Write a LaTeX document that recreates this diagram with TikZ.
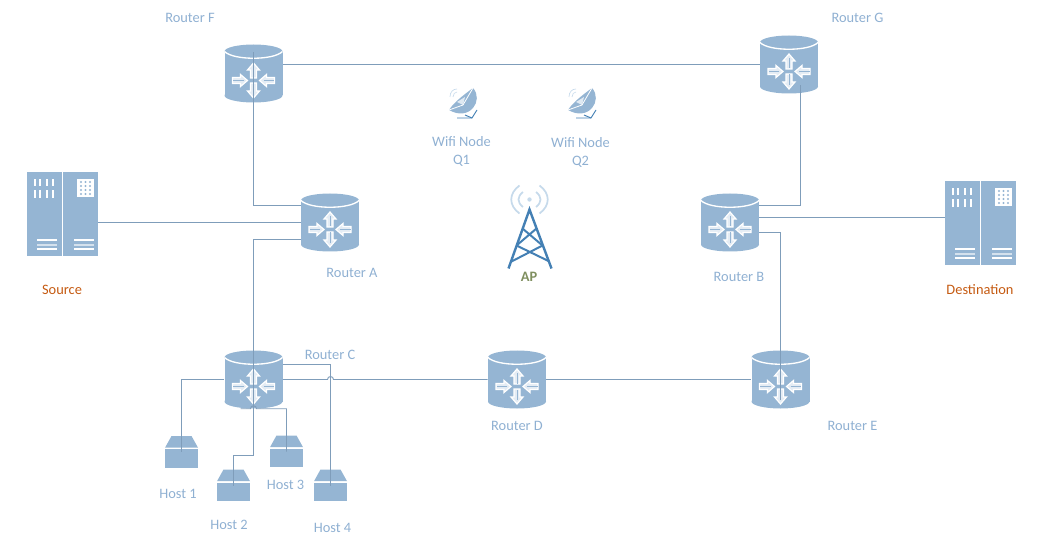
\documentclass[tikz,border=0pt]{standalone}
\usepackage{fontspec}
\setmainfont{Carlito}
\usetikzlibrary{positioning, calc}

\definecolor{iconblue}{HTML}{95B5D3}
\definecolor{wirecol}{HTML}{7F9DBA}
\definecolor{labelblue}{HTML}{8FB0D2}
\definecolor{towerblue}{HTML}{4480B4}
\definecolor{wavecol}{HTML}{C6DAEB}
\definecolor{srccol}{HTML}{C55A11}
\definecolor{apcol}{HTML}{7F8F5F}

\tikzset{
  arrowmark/.pic = {
    \draw[white, line width=.9pt, fill=iconblue!25!white, line join=miter]
      (0,-7.5) -- (6,-0.5) -- (3,-0.5) -- (3,7.5) -- (-3,7.5) -- (-3,-0.5) -- (-6,-0.5) -- cycle;
    \draw[iconblue, line width=.6pt] (0,-3.5) -- (0,7);
  },
  routericon/.pic = {
    \fill[iconblue] (-29,-22) rectangle (29,22);
    \fill[iconblue] (0,22) ellipse [x radius=29, y radius=7];
    \fill[iconblue] (0,-22) ellipse [x radius=29, y radius=7];
    \draw[white, line width=1pt] (-29,-22) .. controls (-20,-13) and (20,-13) .. (29,-22);
    \pic[shift={(0,-3)}]               {arrowmark};
    \pic[shift={(0,17)}, rotate=180]   {arrowmark};
    \pic[shift={(-13.5,7)}, rotate=-90] {arrowmark};
    \pic[shift={(13.5,7)},  rotate=90]  {arrowmark};
  },
  hosticon/.pic = {
    \fill[iconblue] (-10,-16) -- (10,-16) -- (16.5,-4.3) -- (-16.5,-4.3) -- cycle;
    \fill[iconblue] (-16.5,-3) rectangle (16.5,15.7);
  },
  servericon/.pic = {
    \fill[iconblue] (-35.5,-42) rectangle (-1,42);
    \fill[iconblue] (0.5,-42) rectangle (35.5,42);
    \foreach \sx in {-28.5,-23.5,-16.5,-10.5} {
      \fill[white] (\sx,-35) rectangle ++(2.3,7.5);
      \fill[white] (\sx,-24) rectangle ++(2.3,8);
    }
    \fill[white] (14.8,-35) rectangle (31,-17);
    \foreach \gx in {18.5,23,27.5}
      \foreach \gy in {-32,-28,-24,-20}
        \fill[iconblue] (\gx,\gy) circle [radius=1.2];
    \foreach \ly/\lop in {26/1,31/.6,35/1} {
      \fill[white, opacity=\lop] (-25.5,\ly-1) rectangle (-6,\ly+1);
      \fill[white, opacity=\lop] (11.8,\ly-1) rectangle (31.5,\ly+1);
    }
  },
  dishicon/.pic = {
    \fill[iconblue] (11,-14) .. controls (22,-2) and (8,20) .. (-13,8) .. controls (-8,0) and (3,-8) .. cycle;
    \fill[iconblue!30!white] (-5,0) -- (3,-5) -- (1,3) -- cycle;
    \draw[white, line width=.6pt] (-13,8) -- (1,3) -- (11,-14);
    \draw[towerblue, line width=.7pt] (-5,16) -- (10,16) -- (15,8);
    \draw[towerblue, line width=.7pt] (3,13) -- (10,16);
    \draw[wavecol, line width=.5pt] (-12,-5) .. controls (-12,-10) and (-9,-13) .. (-5,-13);
    \draw[wavecol, line width=.5pt] (-9,-5) .. controls (-9,-8) and (-7,-10) .. (-5,-10);
  },
  towericon/.pic = {
    \draw[towerblue, line width=1.8pt, line join=miter] (-21,59) -- (0,0) -- (22,59);
    \draw[towerblue, line width=1.5pt] (-7,19) -- (13,36) (7,19) -- (-13,36);
    \draw[towerblue, line width=1.5pt] (-13,36) -- (20,52) (13,36) -- (-18,52);
    \fill[wavecol] (0,-10) circle [radius=2.2];
    \draw[wavecol, line width=1.3pt] (-6.5,-17.5) .. controls (-12.5,-13) and (-12.5,-7) .. (-6.5,-2.5);
    \draw[wavecol, line width=1.3pt] (6.5,-17.5) .. controls (12.5,-13) and (12.5,-7) .. (6.5,-2.5);
    \draw[wavecol, line width=1.3pt] (-10,-24) .. controls (-21,-16) and (-21,-4) .. (-10,4);
    \draw[wavecol, line width=1.3pt] (10,-24) .. controls (21,-16) and (21,-4) .. (10,4);
  },
}

\begin{document}
\begin{tikzpicture}[
  x=.75pt, y=-.75pt,
  router/.style = {inner sep=0pt, minimum width=43.5pt, minimum height=43.5pt},
  host/.style   = {inner sep=0pt, minimum width=24.75pt, minimum height=24pt},
  server/.style = {inner sep=0pt, minimum width=53.25pt, minimum height=63pt},
  tag/.style    = {font=\fontsize{10.8}{13.5}\selectfont, text=labelblue, align=center, inner sep=0pt},
  wire/.style   = {draw=wirecol, line width=.7pt},
]
  \useasboundingbox (0,0) rectangle (1040,549);

  \node[router] (F) at (253.5,73.5)  {};
  \node[router] (G) at (789,64.5)    {};
  \node[router] (A) at (330,222.5)   {};
  \node[router] (B) at (730,222.5)   {};
  \node[router] (C) at (253.5,379.5) {};
  \node[router] (D) at (517,379.5)   {};
  \node[router] (E) at (780.5,379.5) {};

  \node[server] (src) at (62.5,214)  {};
  \node[server] (dst) at (980.5,223) {};

  \node[host] (h1) at (181.5,452)   {};
  \node[host] (h2) at (233.5,485.5) {};
  \node[host] (h3) at (286.5,451.5) {};
  \node[host] (h4) at (330.5,485.5) {};

  \node[inner sep=0pt] (q1) at (462,102) {};
  \node[inner sep=0pt] (q2) at (581,102) {};
  \node[inner sep=0pt] (ap) at (529.5,209.5) {};

  \foreach \r in {F,G,A,B,C,D,E} \pic at (\r) {routericon};
  \foreach \r in {src,dst}       \pic at (\r) {servericon};
  \foreach \r in {h1,h2,h3,h4}   \pic at (\r) {hosticon};
  \foreach \r in {q1,q2}         \pic at (\r) {dishicon};
  \pic at (ap) {towericon};

  \node[tag] at (190,18)    {Router F};
  \node[tag] at (857.5,18)  {Router G};
  \node[tag] at (352,273)   {Router A};
  \node[tag] at (739,277)   {Router B};
  \node[tag] at (330,355)   {Router C};
  \node[tag] at (517,425.5) {Router D};
  \node[tag] at (852.5,426) {Router E};
  \node[tag] at (461.5,151) {Wifi Node\\Q1};
  \node[tag] at (580.5,152) {Wifi Node\\Q2};
  \node[tag] at (178,493.5) {Host 1};
  \node[tag] at (229,525)   {Host 2};
  \node[tag] at (285.5,485) {Host 3};
  \node[tag] at (332.5,528) {Host 4};
  \node[tag, text=srccol] at (62,290)   {Source};
  \node[tag, text=srccol] at (980,290)  {Destination};
  \node[tag, text=apcol, font=\fontsize{10.8}{13.5}\selectfont\bfseries] at (529,277) {AP};

  \coordinate (Fin)  at ($(F.north)+(0,8)$);
  \coordinate (Aup)  at ($(A.west)+(0,-17)$);
  \coordinate (Alow) at ($(A.west)+(0,17)$);
  \coordinate (Bup)  at ($(B.east)+(0,-17)$);
  \coordinate (Bmid) at ($(B.east)+(0,-5)$);
  \coordinate (Blow) at ($(B.east)+(0,10)$);
  \coordinate (Gin)  at ($(G.south)+(11.5,-9)$);
  \coordinate (Ein)  at ($(E.center)+(0,20)$);
  \coordinate (Cup)  at ($(C.east)+(0,-15)$);
  \coordinate (Clow) at ($(C.south)+(-13,0)$);
  \coordinate (jmpd) at (C.east -| h4.center);

  \draw[wire] (G.west) -- (G.west -| F.east);
  \draw[wire] (Fin) |- (Aup);
  \draw[wire] (A.west) -- (A.west -| src.east);
  \draw[wire] (Alow) -| (C.center);
  \draw[wire] (C.center) -- ++(0,76) -| (h2.center);
  \draw[wire] (C.west) -| (h1.center);
  \draw[wire] (Clow) -- ($(C.south)+(-3,0)$) arc[start angle=180, end angle=0, radius=2.25pt] -| (h3.center);
  \draw[wire] (Cup) -| (h4.center);
  \draw[wire] (C.east) -- ($(jmpd)+(-3,0)$) arc[start angle=180, end angle=0, radius=2.25pt] -- (D.west);
  \draw[wire] (D.east) -- (E.west);
  \draw[wire] (Blow) -| (Ein);
  \draw[wire] (Bmid) -- (Bmid -| dst.west);
  \draw[wire] (Bup) -| (Gin);
\end{tikzpicture}
\end{document}
